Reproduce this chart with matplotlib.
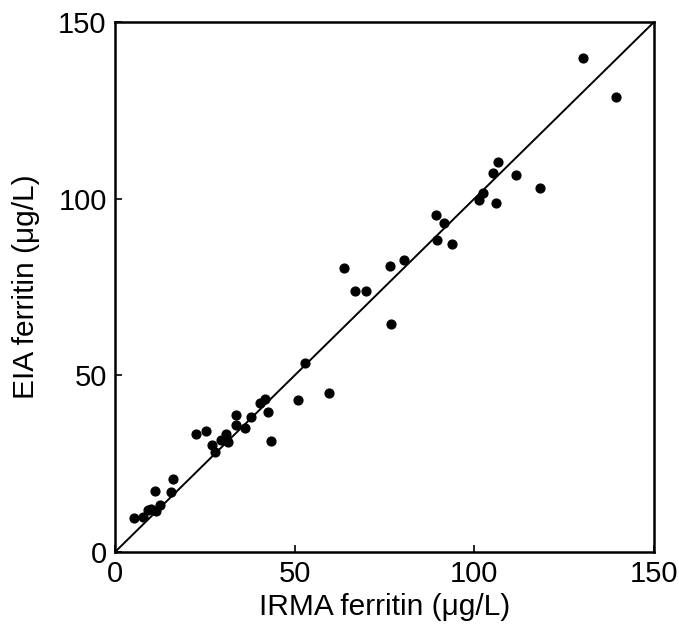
import matplotlib
matplotlib.use('Agg')
import matplotlib.pyplot as plt

# IRMA (x) vs EIA (y) ferritin, ug/L
irma = [5.2, 7.9, 9.1, 10.0, 11.1, 11.5, 12.4, 15.7, 16.1, 22.5,
        25.2, 27.0, 27.8, 29.6, 31.0, 31.4, 33.8, 33.8, 36.1, 37.9,
        40.3, 41.6, 42.7, 43.3, 50.8, 53.0, 59.5, 63.7, 66.7, 69.8,
        76.4, 76.7, 80.3, 89.3, 89.7, 91.5, 93.9, 101.3, 102.5, 105.3,
        106.5, 105.9, 111.5, 118.3, 130.2, 139.5]
eia = [9.6, 9.8, 11.8, 12.2, 17.3, 11.6, 13.2, 16.9, 20.6, 33.5,
       34.2, 30.4, 28.4, 31.6, 33.3, 31.2, 38.9, 35.9, 35.2, 38.1,
       42.3, 43.4, 39.7, 31.4, 42.9, 53.6, 45.1, 80.4, 73.9, 73.9,
       81.0, 64.6, 82.7, 95.5, 88.3, 93.0, 87.2, 99.6, 101.5, 107.4,
       110.5, 98.7, 106.8, 103.0, 139.8, 128.9]

line_x = [0, 150]
line_y = [0, 150]
ticks = [0, 50, 100, 150]

plt.rcParams['font.family'] = ['Liberation Sans', 'DejaVu Sans']

fig = plt.figure(figsize=(6.79, 6.29), dpi=100)
ax = fig.add_axes([0.1694, 0.1224, 0.7938, 0.8426])

ax.plot(line_x, line_y, color='black', lw=1.4)
ax.scatter(irma, eia, s=40, color='black', zorder=3, clip_on=False)

ax.set_xlim(0, 150)
ax.set_ylim(0, 150)
ax.set_xticks(ticks)
ax.set_yticks(ticks)
ax.tick_params(direction='in', length=5, width=1.2, labelsize=21, pad=6)
for sp in ax.spines.values():
    sp.set_linewidth(1.8)

ax.set_xlabel('IRMA ferritin (μg/L)', fontsize=21.5, labelpad=3)
ax.set_ylabel('EIA ferritin (μg/L)', fontsize=21.5, labelpad=13)

fig.savefig('out.png', dpi=100)
